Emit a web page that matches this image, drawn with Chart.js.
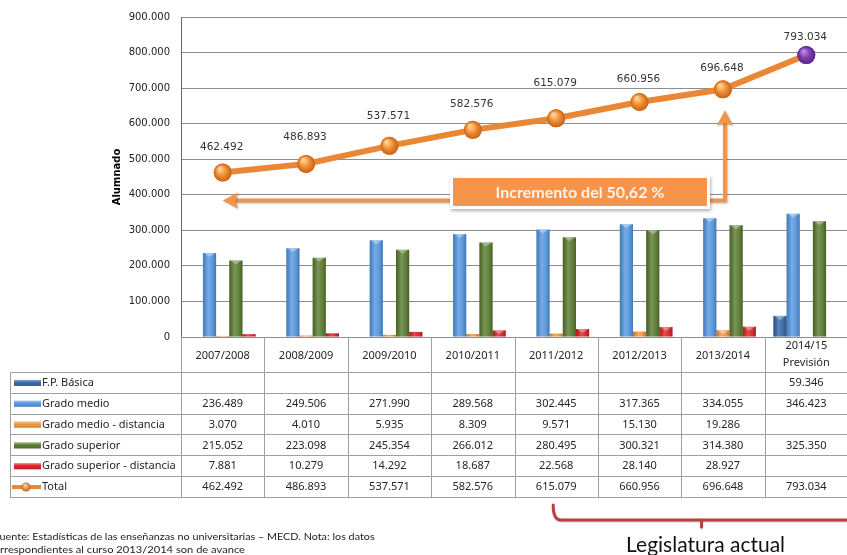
<!DOCTYPE html>
<html><head><meta charset="utf-8">
<script src="https://cdn.jsdelivr.net/npm/chart.js@4.4.1/dist/chart.umd.min.js"></script>
<style>
html,body{margin:0;padding:0;background:#fff;overflow:hidden;width:847px;height:555px}
#wrap{position:absolute;left:0;top:0;width:857px;height:555px}
</style>
</head><body><div id="wrap"><canvas id="c" width="857" height="555"></canvas></div>
<script>
// ---------- DATA ----------
const categories = ['2007/2008','2008/2009','2009/2010','2010/2011','2011/2012','2012/2013','2013/2014',['2014/15','Previsión']];
const fpBasica          = [null,null,null,null,null,null,null,59346];
const gradoMedio        = [236489,249506,271990,289568,302445,317365,334055,346423];
const gradoMedioDist    = [3070,4010,5935,8309,9571,15130,19286,null];
const gradoSuperior     = [215052,223098,245354,266012,280495,300321,314380,325350];
const gradoSuperiorDist = [7881,10279,14292,18687,22568,28140,28927,null];
const total             = [462492,486893,537571,582576,615079,660956,696648,793034];
const seriesNames = ['F.P. Básica','Grado medio','Grado medio - distancia','Grado superior','Grado superior - distancia','Total'];
const yTickLabels = ['0','100.000','200.000','300.000','400.000','500.000','600.000','700.000','800.000','900.000'];
const axisTitle = 'Alumnado';
const boxText = 'Incremento del 50,62 %';
const noteLines = ['Fuente: Estadísticas de las enseñanzas no universitarias – MECD. Nota: los datos','correspondientes al curso 2013/2014 son de avance'];
const bracketText = 'Legislatura actual';

// ---------- STYLE ----------
const colors = {
  fp:'#2F62A6', gm:'#5094E0', gmd:'#F0933A', gs:'#56772A', gsd:'#D91A1F',
  line:'#EA8735', point:'#EE8A2E', pointLast:'#7D3AAE', grid:'#8d8d8d', table:'#a0a0a0', text:'#262626'
};
const fmt = v => (v===null||v===undefined) ? '' : String(v).replace(/\B(?=(\d{3})+(?!\d))/g,'.');
const labelOffsets = [25,27,30,26,35,23,21,18];

const barSeries = [
  {label:seriesNames[0], data:fpBasica, color:colors.fp},
  {label:seriesNames[1], data:gradoMedio, color:colors.gm},
  {label:seriesNames[2], data:gradoMedioDist, color:colors.gmd},
  {label:seriesNames[3], data:gradoSuperior, color:colors.gs},
  {label:seriesNames[4], data:gradoSuperiorDist, color:colors.gsd},
];

function shade(ctx, x0, x1, y0, y1){
  const g = ctx.createLinearGradient(x0,0,x1,0);
  g.addColorStop(0,'rgba(0,0,0,0.18)');
  g.addColorStop(0.4,'rgba(255,255,255,0.22)');
  g.addColorStop(0.6,'rgba(255,255,255,0.12)');
  g.addColorStop(1,'rgba(0,0,0,0.22)');
  ctx.fillStyle=g; ctx.fillRect(x0,y0,x1-x0,y1-y0);
}

const barShine = {
  id:'barShine',
  afterDatasetsDraw(chart){
    const ctx=chart.ctx;
    ctx.save();
    chart.data.datasets.forEach((ds,di)=>{
      if(ds.type==='line') return;
      chart.getDatasetMeta(di).data.forEach((el,i)=>{
        if(ds.data[i]===null) return;
        const x0=el.x-el.width/2, x1=el.x+el.width/2;
        shade(ctx,x0,x1,el.y,el.base);
        if(el.base-el.y>6){
          ctx.fillStyle='rgba(255,255,255,0.35)';
          ctx.beginPath(); ctx.moveTo(x0+1,el.y); ctx.lineTo(x1-1,el.y); ctx.lineTo(el.x,el.y+4); ctx.closePath(); ctx.fill();
        }
      });
    });
    chart.data.datasets.forEach((ds,di)=>{
      if(ds.type!=='line') return;
      chart.getDatasetMeta(di).data.forEach((el,i)=>{
        const r=9, base = i===total.length-1 ? colors.pointLast : colors.point;
        const g=ctx.createRadialGradient(el.x-3,el.y-4,1,el.x,el.y,r);
        g.addColorStop(0, i===total.length-1 ? '#B58AD6' : '#FFD39A');
        g.addColorStop(0.55, base);
        g.addColorStop(1, i===total.length-1 ? '#5A2683' : '#C4621A');
        ctx.fillStyle=g; ctx.beginPath(); ctx.arc(el.x,el.y,r,0,Math.PI*2); ctx.fill();
      });
      ctx.fillStyle='#333'; ctx.font='10.5px "DejaVu Sans"'; ctx.textAlign='center'; ctx.textBaseline='middle';
      chart.getDatasetMeta(di).data.forEach((el,i)=>{
        ctx.fillText(fmt(ds.data[i]), el.x-1, el.y-labelOffsets[i]);
      });
    });
    ctx.restore();
  }
};

const annot = {
  id:'annot',
  afterDatasetsDraw(chart){
    const ctx=chart.ctx, xs=chart.scales.x, ys=chart.scales.y;
    const meta=chart.getDatasetMeta(0);
    const xL=xs.getPixelForValue(0), xR=xs.getPixelForValue(6)+2;
    const yH=ys.getPixelForValue(384000);
    const yTip=meta.data[6].y+21;
    ctx.save();
    ctx.strokeStyle='#F0954D'; ctx.fillStyle='#F0954D'; ctx.lineWidth=4;
    ctx.shadowColor='rgba(0,0,0,0.25)'; ctx.shadowOffsetX=1; ctx.shadowOffsetY=1; ctx.shadowBlur=2;
    ctx.beginPath(); ctx.moveTo(xL+10,yH); ctx.lineTo(xR,yH); ctx.lineTo(xR,yTip+10); ctx.stroke();
    ctx.beginPath(); ctx.moveTo(xL,yH); ctx.lineTo(xL+15,yH-8); ctx.lineTo(xL+13,yH); ctx.lineTo(xL+15,yH+8); ctx.closePath(); ctx.fill();
    ctx.beginPath(); ctx.moveTo(xR,yTip); ctx.lineTo(xR-8,yTip+15); ctx.lineTo(xR,yTip+13); ctx.lineTo(xR+8,yTip+15); ctx.closePath(); ctx.fill();
    const bx=453, by=178, bw=254, bh=28;
    ctx.shadowColor='rgba(0,0,0,0.3)'; ctx.shadowOffsetX=1; ctx.shadowOffsetY=2; ctx.shadowBlur=3;
    ctx.fillStyle='#ffffff'; ctx.fillRect(bx-3,by-3,bw+6,bh+6);
    ctx.shadowColor='transparent';
    ctx.fillStyle='#F5944A'; ctx.fillRect(bx,by,bw,bh);
    ctx.fillStyle='#FFF3E8'; ctx.font='bold 16px Lato'; ctx.textAlign='center'; ctx.textBaseline='middle';
    ctx.fillText(boxText, bx+bw/2, by+bh/2+1);
    ctx.restore();
  }
};

const tablePlugin = {
  id:'table',
  afterDraw(chart){
    const ctx=chart.ctx, xs=chart.scales.x, ca=chart.chartArea;
    const n=categories.length;
    const b=[ca.left];
    for(let i=0;i<n-1;i++) b.push((xs.getPixelForValue(i)+xs.getPixelForValue(i+1))/2);
    b.push(ca.right);
    const top=ca.bottom, hb=372, rh=20.83, rowsN=6, bottom=hb+rh*rowsN, lx=10;
    const px=v=>Math.round(v)+0.5;
    ctx.save();
    ctx.strokeStyle=colors.table; ctx.lineWidth=1;
    ctx.beginPath();
    for(let r=0;r<=rowsN;r++){ const y=px(hb+r*rh); ctx.moveTo(lx,y); ctx.lineTo(ca.right,y); }
    b.forEach(x=>{ ctx.moveTo(px(x),top); ctx.lineTo(px(x),px(bottom)); });
    ctx.moveTo(px(lx),px(hb)); ctx.lineTo(px(lx),px(bottom));
    ctx.stroke();
    ctx.fillStyle=colors.text; ctx.font='11px "Noto Sans"'; ctx.textAlign='center'; ctx.textBaseline='middle';
    categories.forEach((c,i)=>{
      const cx=(b[i]+b[i+1])/2;
      if(Array.isArray(c)){ ctx.fillText(c[0],cx,top+9); ctx.fillText(c[1],cx,top+26); }
      else ctx.fillText(c,cx,(top+hb)/2+1);
    });
    const rowsData=[fpBasica,gradoMedio,gradoMedioDist,gradoSuperior,gradoSuperiorDist,total];
    const rowCols=[colors.fp,colors.gm,colors.gmd,colors.gs,colors.gsd,colors.line];
    rowsData.forEach((arr,r)=>{
      const cy=hb+r*rh+rh/2+0.5;
      arr.forEach((v,i)=>{ ctx.textAlign='center'; ctx.fillText(fmt(v),(b[i]+b[i+1])/2,cy); });
      if(r<5){
        ctx.fillStyle=rowCols[r]; ctx.fillRect(14,cy-3,27,6);
        const g=ctx.createLinearGradient(0,cy-3,0,cy+3);
        g.addColorStop(0,'rgba(255,255,255,0.45)'); g.addColorStop(0.5,'rgba(255,255,255,0)'); g.addColorStop(1,'rgba(0,0,0,0.25)');
        ctx.fillStyle=g; ctx.fillRect(14,cy-3,27,6);
      } else {
        ctx.strokeStyle=colors.line; ctx.lineWidth=4; ctx.beginPath(); ctx.moveTo(12,cy); ctx.lineTo(41,cy); ctx.stroke();
        const g=ctx.createRadialGradient(25,cy-2,0.5,26,cy,4.5);
        g.addColorStop(0,'#FFD39A'); g.addColorStop(1,'#C4621A');
        ctx.fillStyle=g; ctx.beginPath(); ctx.arc(26,cy,4.5,0,Math.PI*2); ctx.fill();
        ctx.lineWidth=1; ctx.strokeStyle=colors.table;
      }
      ctx.fillStyle=colors.text; ctx.textAlign='left';
      ctx.fillText(seriesNames[r],42,cy);
    });
    ctx.font='10px Lato'; ctx.fillStyle='#222'; ctx.textAlign='left'; ctx.textBaseline='middle';
    const w1=ctx.measureText(noteLines[0].slice(1)).width, s1=375/w1;
    ctx.save(); ctx.translate(0,537); ctx.scale(s1,1); ctx.fillText(noteLines[0],-ctx.measureText('F').width,0); ctx.restore();
    const w2=ctx.measureText(noteLines[1].slice(2)).width, s2=245/w2;
    ctx.save(); ctx.translate(0,550); ctx.scale(s2,1); ctx.fillText(noteLines[1],-ctx.measureText('co').width,0); ctx.restore();
    const bxL=xs.getPixelForValue(4)-5, bxM=xs.getPixelForValue(5)+62;
    ctx.strokeStyle='#B8413F'; ctx.lineWidth=3; ctx.lineJoin='round'; ctx.lineCap='round';
    ctx.shadowColor='rgba(0,0,0,0.2)'; ctx.shadowOffsetY=1; ctx.shadowBlur=1;
    ctx.beginPath(); ctx.moveTo(bxL+2,505); ctx.quadraticCurveTo(bxL+2,520,bxL+10,520); ctx.lineTo(ca.right,520); ctx.stroke();
    ctx.beginPath(); ctx.moveTo(bxM,520); ctx.lineTo(bxM,527); ctx.stroke();
    ctx.shadowColor='transparent';
    ctx.fillStyle='#111'; ctx.font='21px Lato'; ctx.textAlign='center'; ctx.textBaseline='middle';
    ctx.fillText(bracketText,bxM+4,545);
    ctx.restore();
  }
};

const datasets=[{
  type:'line', label:seriesNames[5], data:total, order:0,
  borderColor:colors.line, borderWidth:6, pointRadius:9, pointHoverRadius:9,
  pointBackgroundColor: total.map((v,i)=>i===total.length-1?colors.pointLast:colors.point),
  pointBorderWidth:0, tension:0
}].concat(barSeries.map(s=>({
  type:'bar', label:s.label, data:s.data, backgroundColor:s.color, order:1,
  categoryPercentage:0.79, barPercentage:1.0, borderWidth:0
})));

new Chart(document.getElementById('c'),{
  data:{labels:categories, datasets},
  options:{
    responsive:false, animation:false, events:[],
    layout:{padding:{left:111,right:0,top:17,bottom:218}},
    plugins:{legend:{display:false},tooltip:{enabled:false}},
    scales:{
      x:{display:false, offset:true},
      y:{
        min:0,max:900000,
        afterFit(s){ s.width=70; },
        ticks:{stepSize:100000,padding:11,color:'#222',font:{family:'DejaVu Sans',size:10},
          callback:(v)=>yTickLabels[Math.round(v/100000)]},
        grid:{color:colors.grid,drawTicks:false},
        border:{color:'#6a6a6a'},
        title:{display:true,text:axisTitle,color:'#000',font:{family:'DejaVu Sans',size:10,weight:'bold'},padding:{top:0,bottom:0}}
      }
    }
  },
  plugins:[barShine,annot,tablePlugin]
});
</script>
</body></html>
